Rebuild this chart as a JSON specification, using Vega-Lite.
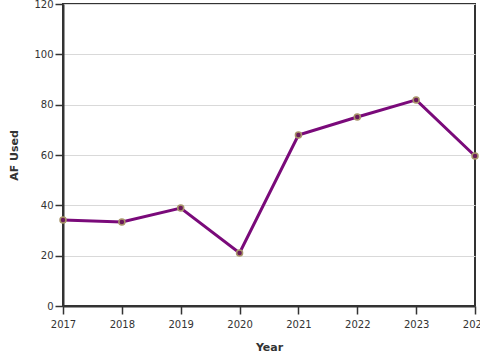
{
  "$schema": "https://vega.github.io/schema/vega-lite/v6.json",
  "autosize": "none",
  "width": 412,
  "height": 302,
  "padding": {"left": 63, "top": 4, "right": 5, "bottom": 54},
  "background": "white",
  "config": {
    "view": {"stroke": "#333333", "strokeWidth": 2},
    "axis": {
      "labelFont": "DejaVu Sans",
      "titleFont": "DejaVu Sans",
      "labelFontSize": 10,
      "titleFontSize": 11,
      "labelColor": "#333333",
      "titleColor": "#333333",
      "domainColor": "#333333",
      "domainWidth": 2,
      "tickColor": "#333333",
      "tickWidth": 1.5,
      "tickSize": 8,
      "gridColor": "#d9d9d9"
    }
  },
  "data": {
    "values": [
      {"Year": 2017, "AF": 34.2},
      {"Year": 2018, "AF": 33.4},
      {"Year": 2019, "AF": 38.9},
      {"Year": 2020, "AF": 21.1},
      {"Year": 2021, "AF": 67.9},
      {"Year": 2022, "AF": 75.1},
      {"Year": 2023, "AF": 81.9},
      {"Year": 2024, "AF": 59.6}
    ]
  },
  "encoding": {
    "x": {
      "field": "Year", "type": "quantitative",
      "scale": {"domain": [2017, 2024], "nice": false, "zero": false},
      "axis": {"values": [2017, 2018, 2019, 2020, 2021, 2022, 2023, 2024], "format": "d", "grid": false, "labelFlush": false, "labelOverlap": false, "labelPadding": 5, "title": "Year", "titlePadding": 12}
    },
    "y": {
      "field": "AF", "type": "quantitative",
      "scale": {"domain": [0, 120], "nice": false},
      "axis": {"values": [0, 20, 40, 60, 80, 100, 120], "labelPadding": 2, "title": "AF Used", "titlePadding": 14}
    }
  },
  "layer": [
    {"mark": {"type": "line", "color": "#7a0a7a", "strokeWidth": 3, "clip": false}},
    {"mark": {"type": "point", "filled": true, "fill": "#6a1a5a", "stroke": "#a8956a", "strokeWidth": 1.5, "size": 36, "opacity": 1, "clip": false}}
  ]
}
